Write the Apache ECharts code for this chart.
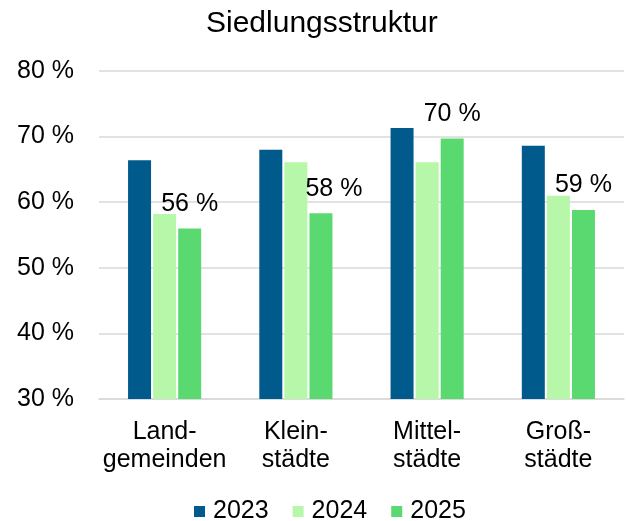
<!DOCTYPE html>
<html>
<head>
<meta charset="utf-8">
<title>Siedlungsstruktur</title>
<script src="https://cdn.jsdelivr.net/npm/echarts@6/dist/echarts.min.js"></script>
<style>
  html, body { margin: 0; padding: 0; background: #fff; }
  #chart { width: 626px; height: 521px; }
</style>
</head>
<body>
<div id="chart"></div>
<script>
  // data
  var categories = ['Land-\ngemeinden', 'Klein-\nstädte', 'Mittel-\nstädte', 'Groß-\nstädte'];
  var years = ['2023', '2024', '2025'];
  var values2023 = [66.4, 68.0, 71.3, 68.6];
  var values2024 = [58.2, 66.1, 66.1, 61.0];
  var values2025 = [56.0, 58.3, 69.7, 58.8];
  var yTicks = [30, 40, 50, 60, 70, 80];

  var colors = ['#005A8C', '#B6F7A9', '#5AD971'];
  var fontFamily = '"Liberation Sans", Arial, sans-serif';

  // labels only on 2025, one is moved sideways like in the original
  var labelled2025 = values2025.map(function (v, i) {
    var item = { value: v };
    if (i === 1) {
      item.label = { offset: [13, 0] };
    }
    return item;
  });

  var chart = echarts.init(document.getElementById('chart'), null, { renderer: 'canvas' });

  var option = {
    animation: false,
    color: colors,
    textStyle: { fontFamily: fontFamily, color: '#000' },
    title: {
      text: 'Siedlungsstruktur',
      left: 201,
      top: 4,
      textStyle: { fontSize: 30, fontWeight: 'normal', color: '#000', fontFamily: fontFamily }
    },
    legend: {
      data: years,
      top: 494,
      left: 189,
      icon: 'rect',
      itemWidth: 11,
      itemHeight: 11,
      itemGap: 24,
      textStyle: { fontSize: 25, color: '#000', fontFamily: fontFamily, padding: [0, 0, 0, 3] }
    },
    grid: {
      left: 99,
      right: 2,
      top: 71,
      bottom: 122,
      containLabel: false
    },
    xAxis: {
      type: 'category',
      data: categories,
      axisTick: { show: false },
      axisLine: { lineStyle: { color: '#d9d9d9', width: 1.5 } },
      axisLabel: {
        fontSize: 25,
        lineHeight: 28,
        color: '#000',
        margin: 19,
        interval: 0,
        fontFamily: fontFamily
      }
    },
    yAxis: {
      type: 'value',
      min: yTicks[0],
      max: yTicks[yTicks.length - 1],
      interval: 10,
      axisLine: { show: false },
      axisTick: { show: false },
      splitLine: { lineStyle: { color: '#d9d9d9', width: 1.5 } },
      axisLabel: {
        fontSize: 25,
        color: '#000',
        margin: 25,
        fontFamily: fontFamily,
        formatter: '{value} %'
      }
    },
    series: [
      {
        name: years[0],
        type: 'bar',
        barWidth: 23,
        barGap: '9%',
        data: values2023
      },
      {
        name: years[1],
        type: 'bar',
        barWidth: 23,
        barGap: '9%',
        data: values2024
      },
      {
        name: years[2],
        type: 'bar',
        barWidth: 23,
        barGap: '9%',
        data: labelled2025,
        label: {
          show: true,
          position: 'top',
          distance: 12,
          fontSize: 25,
          color: '#000',
          fontFamily: fontFamily,
          formatter: function (p) {
            return Math.round(p.value) + ' %';
          }
        }
      }
    ]
  };

  chart.setOption(option);
</script>
</body>
</html>
